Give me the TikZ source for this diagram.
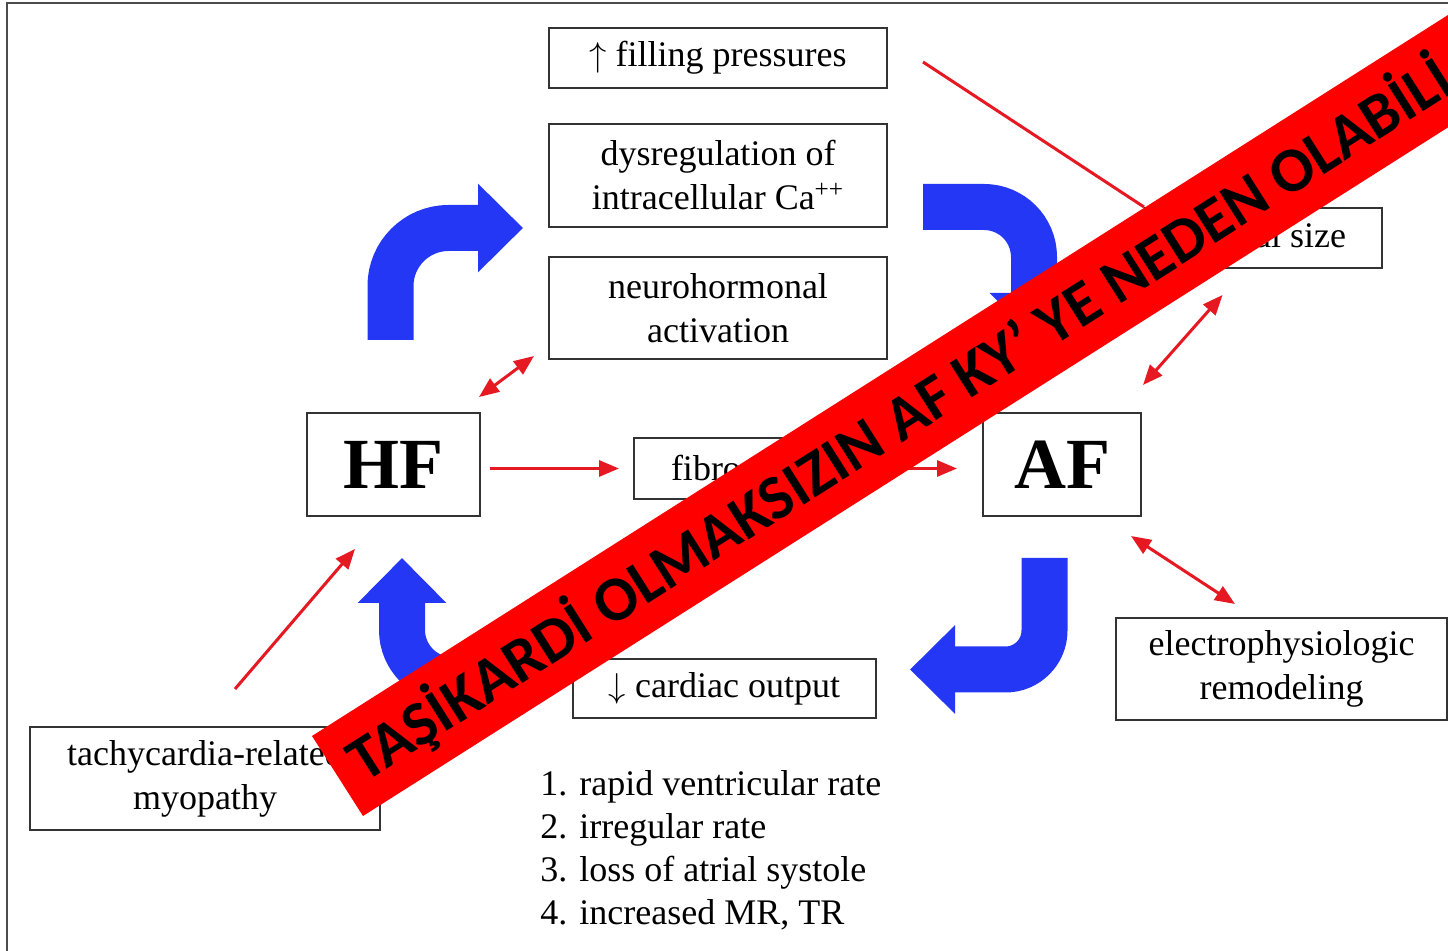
\documentclass[tikz,border=0pt]{standalone}
\usepackage{fontspec}
\setmainfont{Liberation Serif}
\newfontfamily\bannerfont{Carlito}
\usetikzlibrary{positioning,arrows.meta,calc}
\definecolor{arrowblue}{RGB}{35,55,245}
\definecolor{arrowred}{RGB}{230,25,35}

\begin{document}
\begin{tikzpicture}[x=0.5pt, y=-0.5pt,
  every node/.style={font=\fontsize{18}{22}\selectfont},
  >={Triangle[length=10pt,width=8pt]},
  box/.style={draw=black!80, line width=1pt, align=center, inner sep=0pt},
  link/.style={draw=arrowred, line width=1.5pt},
  loop/.style={draw=arrowblue, line width=23pt, -{Triangle[length=22.5pt,width=43pt]}}]
\useasboundingbox (0,0) rectangle (1448,951);
\draw[black!70, line width=1pt] (7,951) -- (7,3) -- (1448,3);

% boxes
\node[box, minimum width=169pt, minimum height=30pt] (fill) at (718,58) {$\uparrow$ filling pressures};
\node[box, minimum width=169pt, minimum height=51.5pt] (dys) at (718,175.5) {dysregulation of\\intracellular Ca\textsuperscript{++}};
\node[box, minimum width=169pt, minimum height=51pt] (neuro) at (718,308) {neurohormonal\\activation};
\node[box, minimum width=118.5pt, minimum height=30pt] (size) at (1263.5,238) {$\uparrow$ atrial size};
\node[box, minimum width=86.5pt, minimum height=51.5pt, font=\fontsize{36}{40}\selectfont\bfseries] (hf) at (393.5,464.5) {HF};
\node[box, minimum width=79pt, minimum height=51.5pt, font=\fontsize{36}{40}\selectfont\bfseries] (af) at (1062,464.5) {AF};
\node[box, minimum width=91pt, minimum height=30.5pt] (fib) at (725,468.5) {fibrosis};
\node[box, minimum width=151.5pt, minimum height=29.5pt] (co) at (724.5,688.5) {$\downarrow$ cardiac output};
\node[box, minimum width=175pt, minimum height=51.5pt] (tachy) at (205,778.5) {tachycardia-related\\myopathy};
\node[box, minimum width=165.5pt, minimum height=51pt] (ep) at (1281.5,669) {electrophysiologic\\remodeling};
\node[anchor=west, align=left, inner sep=0pt, font=\fontsize{18}{21.5}\selectfont] (causes) at (540,850)
  {1. rapid ventricular rate\\2. irregular rate\\3. loss of atrial systole\\4. increased MR, TR};

% blue loop arrows
\draw[loop, rounded corners=29pt] (390.5,340) -- (390.5,228) -- (523,228);
\draw[loop, rounded corners=25pt] (923,207) -- (1034,207) -- (1034,338);
\draw[loop, rounded corners=19.5pt] (1044.5,558) -- (1044.5,669.5) -- (910,669.5);
\draw[loop, rounded corners=25pt] (535,680) -- (402,680) -- (402,558);

% red links
\draw[link] ($(fill.east)+(35,4)$) -- (size.north west);
\draw[link, <->] ($(hf.north east)+(-2,-15)$) -- ($(neuro.south west)+(-14,-4)$);
\draw[link, <->] ($(af.north east)+(1,-27)$) -- ($(size.south)+(-41,26)$);
\draw[link, <->] ($(af.south east)+(-11,19)$) -- ($(ep.north)+(-46.5,-13)$);
\draw[link, ->, shorten <=4.5pt, shorten >=7pt] (hf.east |- fib.west) -- (fib.west);
\draw[link, ->, shorten <=4.5pt, shorten >=12.5pt] (fib.east) -- (af.west |- fib.east);
\draw[link, ->] ($(tachy.north)+(30,-37)$) -- ($(hf.south)+(-38.5,32)$);

% banner
\begin{scope}
\clip (0,0) rectangle (1448,951);
\fill[red] (312,736) -- (363,816) -- (1629.5,12.2) -- (1578.5,-67.8) -- cycle;
\node[rotate=32.4, anchor=west, inner sep=0pt, font=\fontsize{31.5}{31.5}\selectfont\bannerfont\bfseries] (banner) at (352.7,766.3)
  {TAŞİKARDİ OLMAKSIZIN AF KY’ YE NEDEN OLABİLİ};
\end{scope}
\end{tikzpicture}
\end{document}
